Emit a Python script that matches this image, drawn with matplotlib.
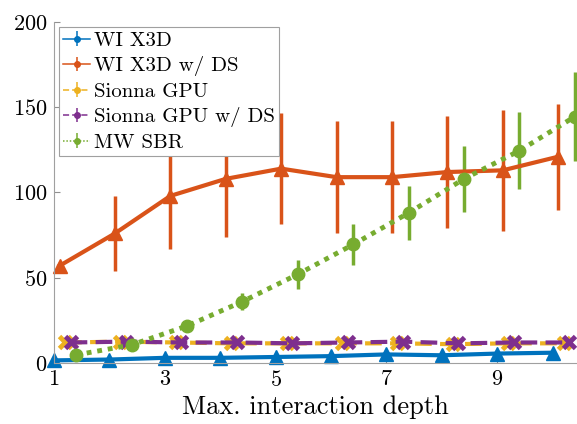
import numpy as np
import matplotlib.pyplot as plt
from matplotlib.legend_handler import HandlerErrorbar
from matplotlib.lines import Line2D

plt.rcParams['font.family'] = ['cmr10', 'DejaVu Serif']
plt.rcParams['mathtext.fontset'] = 'cm'
plt.rcParams['axes.formatter.use_mathtext'] = True

depth = np.arange(1, 11)

wi = [1.5, 2, 3, 3, 3.5, 4, 5, 4.5, 5.5, 6]
wi_err = [0.5, 0.5, 0.5, 0.5, 0.5, 0.5, 0.5, 0.5, 0.5, 0.5]

wi_ds = [57, 76, 98, 108, 114, 109, 109, 112, 113, 121]
wi_ds_err = [2, 22, 31, 34, 32.5, 33, 33, 33, 35.5, 31]

sionna = [12, 12.5, 12, 11.5, 11.5, 11.5, 11.5, 11, 11.5, 11.5]
sionna_err = [1, 1, 1, 1, 1, 1, 1, 1, 1, 1]

sionna_ds = [12, 12.5, 12, 12, 11.5, 12, 12.5, 11.5, 12, 12]
sionna_ds_err = [1, 1, 1, 1, 1, 1, 1, 1, 1, 1]

sbr = [4.7, 10.6, 21.7, 36, 52, 69.5, 88, 108, 124.5, 144.5]
sbr_err = [1, 1, 2, 5, 8.5, 12, 16, 19.5, 22.5, 26]

fig = plt.figure(figsize=(5.77, 4.24), dpi=100)
ax = fig.add_axes([0.0936, 0.144, 0.9064, 0.804])

kw = dict(elinewidth=2.5, capsize=0, clip_on=False)
ax.errorbar(depth, wi, yerr=wi_err, color='#0072BD', lw=3, marker='^', ms=10,
            label='WI X3D', **kw)
ax.errorbar(depth + 0.1, wi_ds, yerr=wi_ds_err, color='#D95319', lw=3, marker='^', ms=10,
            label='WI X3D w/ DS', **kw)
ax.errorbar(depth + 0.2, sionna, yerr=sionna_err, color='#EDB120', lw=3, ls=(0, (4, 2)),
            marker='x', ms=8, mew=3.5, label='Sionna GPU', **kw)
ax.errorbar(depth + 0.3, sionna_ds, yerr=sionna_ds_err, color='#7E2F8E', lw=3, ls=(0, (4, 2)),
            marker='x', ms=8, mew=3.5, label='Sionna GPU w/ DS', **kw)
ax.errorbar(depth + 0.4, sbr, yerr=sbr_err, color='#77AC30', lw=3.5, ls=(0, (1, 1.2)),
            marker='o', ms=9, label='MW SBR', **kw)

ax.set_xlim(1, 10.44)
ax.set_ylim(0, 200)
ax.set_xticks([1, 3, 5, 7, 9])
ax.set_yticks([0, 50, 100, 150, 200])
ax.tick_params(direction='in', labelsize=16, color='#909090', length=4, pad=5)
for s in ['top', 'right']:
    ax.spines[s].set_visible(False)
for s in ['left', 'bottom']:
    ax.spines[s].set_color('#a0a0a0')
ax.set_xlabel('Max. interaction depth', fontsize=19, labelpad=4)


def thin(h, orig):
    h.update_from(orig)
    h.set_linewidth(1.1)
    if isinstance(h, Line2D):
        h.set_markersize(4)
        h.set_markeredgewidth(1)
        h.set_marker('o')


leg = ax.legend(loc='upper left', bbox_to_anchor=(0.01, 0.985), fontsize=15,
                fancybox=False, framealpha=1, edgecolor='#a0a0a0',
                handlelength=1.3, handletextpad=0.15, labelspacing=0.3,
                borderpad=0.2, borderaxespad=0,
                handler_map={type(ax.containers[0]): HandlerErrorbar(update_func=thin, yerr_size=0.35)})
leg.get_frame().set_linewidth(0.8)

fig.savefig('out.png', dpi=100)
